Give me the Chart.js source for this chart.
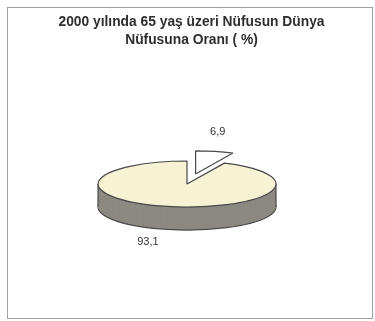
<!DOCTYPE html>
<html>
<head>
<meta charset="utf-8">
<script src="https://cdn.jsdelivr.net/npm/chart.js@4.4.1/dist/chart.umd.min.js"></script>
<style>
html, body { margin: 0; padding: 0; background: #fff; }
#frame { position: absolute; left: 7px; top: 7px; width: 364px; height: 310px; border: 1px solid #a0a0a0; }
#pie-chart { position: absolute; left: 0; top: 0; }
</style>
</head>
<body>
<div id="frame"></div>
<canvas id="pie-chart" width="375" height="321"></canvas>
<script>
var title_lines = ['2000 yılında 65 yaş üzeri Nüfusun Dünya', 'Nüfusuna Oranı ( %)'];
var labels = ['65 yaş üzeri', 'Diğer'];
var values = [6.9, 93.1];
var value_text = ['6,9', '93,1'];
var top_colors = ['#ffffff', '#f6f2d4'];
var side_colors = ['#ffffff', '#8c8981'];

// where the flattened pie goes on screen
var pie_cx = 187, pie_cy = 184, pie_rx = 89, pie_ry = 23, pie_depth = 23;
var explode = [40, 0];
var label_dx = [3, -20], label_dy = [-19, 13];

function flat_stroke(ctx){
    var orig = CanvasRenderingContext2D.prototype.stroke;
    ctx.stroke = function(){
        ctx.save();
        ctx.setTransform(1, 0, 0, 1, 0, 0);
        orig.apply(ctx, arguments);
        ctx.restore();
    };
}

function shift_of(arc, k){
    var mid = (arc.startAngle + arc.endAngle) / 2;
    return [Math.cos(mid) * explode[k], Math.sin(mid) * explode[k] * pie_ry / pie_rx];
}

function place(ctx, ref, arc, k, dy){
    var sh = shift_of(arc, k);
    ctx.translate(pie_cx + sh[0], pie_cy + sh[1] + dy);
    ctx.scale(pie_rx / ref.outerRadius, pie_ry / ref.outerRadius);
    ctx.translate(-ref.x, -ref.y);
}

function draw_with(ctx, arc, opts){
    var saved = arc.options;
    arc.options = Object.assign({}, saved, opts);
    arc.draw(ctx);
    arc.options = saved;
}

var pie3d = {
    id: 'pie3d',
    beforeDatasetsDraw: function(chart){
        var ctx = chart.ctx;
        var arcs = chart.getDatasetMeta(0).data;
        var ref = arcs[1];
        var line = {borderWidth: 1.2, borderColor: '#4a4a4a'};
        flat_stroke(ctx);
        // sides, bottom layer first
        [0, 1].forEach(function(k){
            for (var i = pie_depth; i >= 1; i--){
                ctx.save();
                place(ctx, ref, arcs[k], k, i);
                if (i == pie_depth){
                    draw_with(ctx, arcs[k], Object.assign({backgroundColor: side_colors[k]}, line));
                } else {
                    draw_with(ctx, arcs[k], {backgroundColor: side_colors[k], borderWidth: 0});
                }
                ctx.restore();
            }
        });
        // vertical edges of the body
        ctx.save();
        ctx.strokeStyle = '#4a4a4a';
        ctx.lineWidth = 1.2;
        ctx.beginPath();
        ctx.moveTo(pie_cx - pie_rx, pie_cy);
        ctx.lineTo(pie_cx - pie_rx, pie_cy + pie_depth);
        ctx.moveTo(pie_cx + pie_rx, pie_cy);
        ctx.lineTo(pie_cx + pie_rx, pie_cy + pie_depth);
        ctx.stroke();
        ctx.restore();
        // tops
        [0, 1].forEach(function(k){
            ctx.save();
            place(ctx, ref, arcs[k], k, 0);
            draw_with(ctx, arcs[k], Object.assign({backgroundColor: top_colors[k]}, line));
            ctx.restore();
        });
        delete ctx.stroke;
        return false;
    },
    afterDraw: function(chart){
        var ctx = chart.ctx;
        var arcs = chart.getDatasetMeta(0).data;
        ctx.save();
        ctx.font = '11px "Liberation Sans", Arial, sans-serif';
        ctx.fillStyle = '#333';
        ctx.textAlign = 'center';
        ctx.textBaseline = 'middle';
        arcs.forEach(function(arc, k){
            var mid = (arc.startAngle + arc.endAngle) / 2;
            var sh = shift_of(arc, k);
            var px = pie_cx + sh[0] + Math.cos(mid) * pie_rx;
            var py = pie_cy + sh[1] + Math.sin(mid) * pie_ry;
            if (Math.sin(mid) > 0) py += pie_depth;
            ctx.fillText(value_text[k], px + label_dx[k], py + label_dy[k]);
        });
        ctx.restore();
    }
};

var ctx = document.getElementById('pie-chart').getContext('2d');
var pie_chart = new Chart(ctx, {
    type: 'pie',
    data: {
        labels: labels,
        datasets: [{
            data: values,
            backgroundColor: top_colors,
            borderColor: '#4a4a4a',
            borderWidth: 1.2
        }]
    },
    options: {
        responsive: false,
        animation: false,
        events: [],
        layout: { padding: { left: 8, top: 13, right: 0, bottom: 10 } },
        plugins: {
            legend: { display: false },
            tooltip: { enabled: false },
            title: {
                display: true,
                text: title_lines,
                color: '#2e2e2e',
                font: { family: '"Liberation Sans", Arial, sans-serif', size: 13.8, weight: 'bold', lineHeight: 1.3 },
                padding: { top: 0, bottom: 10 }
            }
        }
    },
    plugins: [pie3d]
});
</script>
</body>
</html>
